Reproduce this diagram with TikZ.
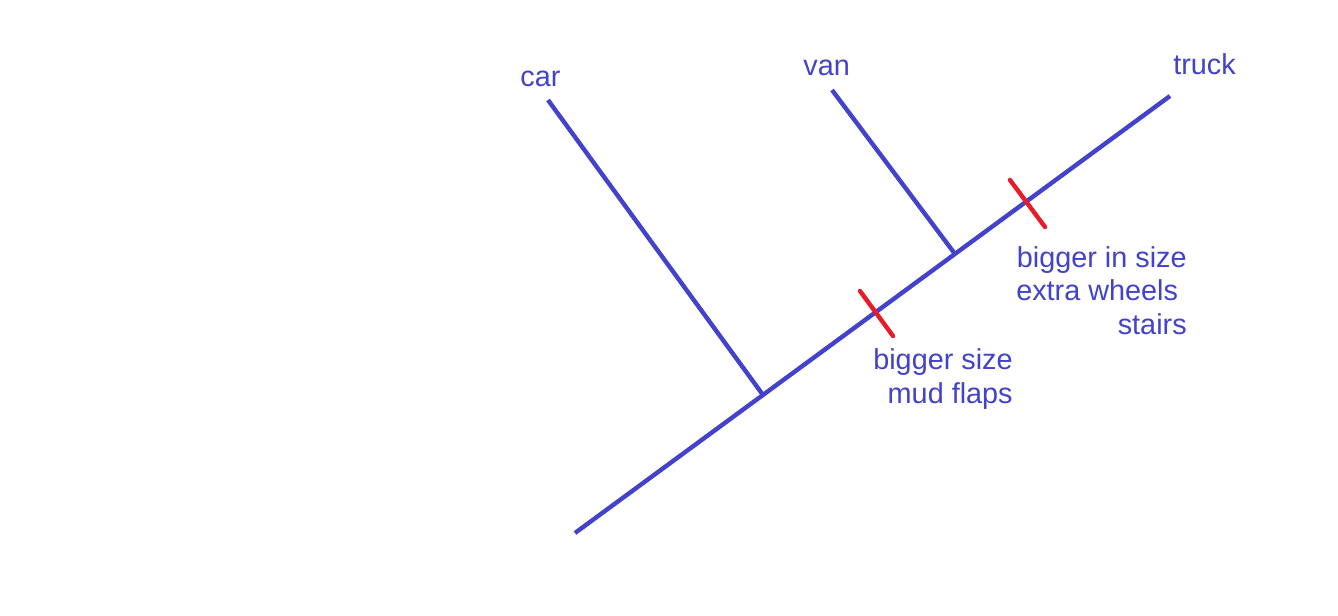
\documentclass[tikz,border=0pt]{standalone}
\usepackage{fontspec}
\setmainfont{Liberation Sans}
\usepackage{tikz}
\usetikzlibrary{positioning}
\definecolor{cladeblue}{RGB}{66,66,204}
\definecolor{traitred}{RGB}{232,28,40}

\begin{document}
\begin{tikzpicture}[
    branchline/.style={line width=2.5pt, cladeblue},
    traitline/.style={line width=2.5pt, traitred, line cap=round},
    taxon/.style={inner sep=0pt, text=cladeblue, font=\fontsize{16.4}{18.8}\selectfont},
    x = 0.02cm,
    y = -0.02cm
    ]
    \useasboundingbox (0,0) rectangle (1338,615);
    \coordinate (root) at (575,533);
    \coordinate (truckend) at (1170,96);
    \coordinate (carjoin) at (763,395);
    \coordinate (carend) at (548,100);
    \coordinate (vanjoin) at (955,254);
    \coordinate (vanend) at (832,90);
    \draw[branchline] (root) -- (truckend);
    \draw[branchline] (carjoin) -- (carend);
    \draw[branchline] (vanjoin) -- (vanend);
    \coordinate (tickAa) at (860,291);
    \coordinate (tickAb) at (893,336);
    \coordinate (tickBa) at (1010,180);
    \coordinate (tickBb) at (1045,227);
    \draw[traitline] (tickAa) -- (tickAb);
    \draw[traitline] (tickBa) -- (tickBb);
    \node[taxon, anchor=base west] (car) at (520,87) {car};
    \node[taxon, anchor=base west] (van) at (803,76) {van};
    \node[taxon, anchor=base west] (truck) at (1173,75) {truck};
    \node[taxon, anchor=base east, align=right] (traitA) at (1013,403) {bigger size\\mud flaps};
    \node[taxon, anchor=base east, align=right] (traitB) at (1187,334) {bigger in size\\extra wheels\hspace{0.3em}\mbox{}\\stairs};
\end{tikzpicture}
\end{document}
